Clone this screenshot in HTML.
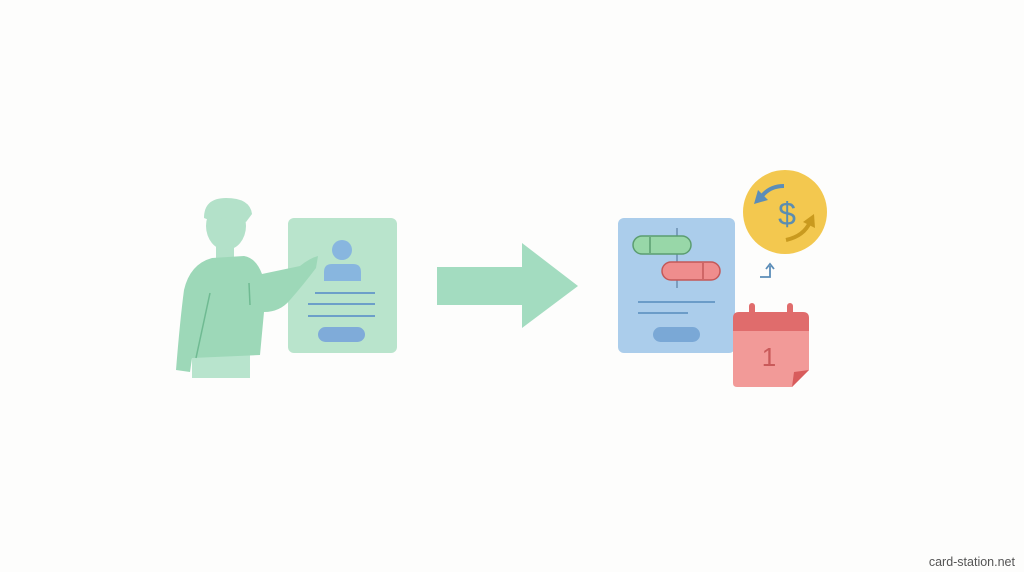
<!DOCTYPE html>
<html><head><meta charset="utf-8"><style>
html,body{margin:0;padding:0;background:#fdfdfc;width:1024px;height:572px;overflow:hidden}
</style></head><body>
<svg width="1024" height="572" viewBox="0 0 1024 572" xmlns="http://www.w3.org/2000/svg">
<rect width="1024" height="572" fill="#fdfdfc"/>
<!-- green card -->
<rect x="288" y="218" width="109" height="135" rx="6" fill="#b9e4cc"/>
<circle cx="342" cy="250" r="10" fill="#88b6df"/>
<path d="M324 281 L324 272 Q324 264 332 264 L353 264 Q361 264 361 272 L361 281Z" fill="#88b6df"/>
<g stroke="#6c9fc9" stroke-width="2"><line x1="315" y1="293" x2="375" y2="293"/><line x1="308" y1="304" x2="375" y2="304"/><line x1="308" y1="316" x2="375" y2="316"/></g>
<rect x="318" y="327" width="47" height="15" rx="7.5" fill="#7fabd9"/>
<!-- person -->
<rect x="192" y="350" width="58" height="28" fill="#b8e4cd"/>
<rect x="216" y="240" width="18" height="22" fill="#b3e1c9"/>
<ellipse cx="226" cy="226" rx="20" ry="24" fill="#b3e1c9"/>
<path d="M204 218 Q204 198 226 198 Q250 198 252 214 L246 222 Q234 212 214 222Z" fill="#b3e1c9"/>
<path d="M212 258 L244 256 Q256 258 262 274 L300 266 Q310 258 318 256 L316 268 Q304 284 290 300 Q280 312 264 312 L260 355 L192 358 L190 372 L176 370 Q180 320 184 290 Q190 264 212 258Z" fill="#9dd8b8"/>
<line x1="210" y1="293" x2="196" y2="358" stroke="#6fba92" stroke-width="1.5"/>
<line x1="249" y1="283" x2="250" y2="305" stroke="#6fba92" stroke-width="1.5"/>
<!-- big arrow -->
<path d="M437 267 L522 267 L522 243 L578 286 L522 328 L522 305 L437 305Z" fill="#a3dcc0"/>
<!-- blue card -->
<rect x="618" y="218" width="117" height="135" rx="6" fill="#abcdeb"/>
<line x1="677" y1="228" x2="677" y2="288" stroke="#6b8fb0" stroke-width="1.5"/>
<rect x="633" y="236" width="58" height="18" rx="9" fill="#98d7a8" stroke="#5b9d70" stroke-width="1.5"/>
<line x1="650" y1="237" x2="650" y2="253" stroke="#5b9d70" stroke-width="1.5"/>
<rect x="662" y="262" width="58" height="18" rx="9" fill="#ef8d8d" stroke="#c45858" stroke-width="1.5"/>
<line x1="703" y1="263" x2="703" y2="279" stroke="#c45858" stroke-width="1.5"/>
<g stroke="#6b9cc8" stroke-width="2"><line x1="638" y1="302" x2="715" y2="302"/><line x1="638" y1="313" x2="688" y2="313"/></g>
<rect x="653" y="327" width="47" height="15" rx="7.5" fill="#7aa8d6"/>
<!-- coin -->
<circle cx="785" cy="212" r="42" fill="#f3c84f"/>
<text x="787" y="225" text-anchor="middle" font-family="Liberation Sans, sans-serif" font-size="32" fill="#5b8db0">$</text>
<path d="M784 186 Q770 186 762 196" stroke="#5b8db8" stroke-width="4" fill="none"/>
<path d="M754 204 L758 190 L768 200Z" fill="#5b8db8"/>
<path d="M786 240 Q804 236 810 222" stroke="#c99a1f" stroke-width="4" fill="none"/>
<path d="M814 214 L803 222 L815 228Z" fill="#c99a1f"/>
<!-- small arrow -->
<path d="M760 277 L770 277 L770 266" stroke="#5b8db8" stroke-width="1.8" fill="none"/>
<path d="M766 269 L770 264 L774 269" stroke="#5b8db8" stroke-width="1.8" fill="none"/>
<!-- calendar -->
<path d="M733 330 L809 330 L809 370 L792 387 L737 387 Q733 387 733 383Z" fill="#f29a98"/>
<path d="M733 318 Q733 312 739 312 L803 312 Q809 312 809 318 L809 331 L733 331Z" fill="#e06c6c"/>
<rect x="749" y="303" width="6" height="12" rx="3" fill="#e06c6c"/>
<rect x="787" y="303" width="6" height="12" rx="3" fill="#e06c6c"/>
<path d="M809 370 L792 387 L794 372Z" fill="#d85c5c"/>
<text x="769" y="366" text-anchor="middle" font-family="Liberation Sans, sans-serif" font-size="26" fill="#c95a5a">1</text>
<text x="1015" y="566" text-anchor="end" font-family="Liberation Sans, sans-serif" font-size="12.5" fill="#555">card-station.net</text>
</svg>
</body></html>
